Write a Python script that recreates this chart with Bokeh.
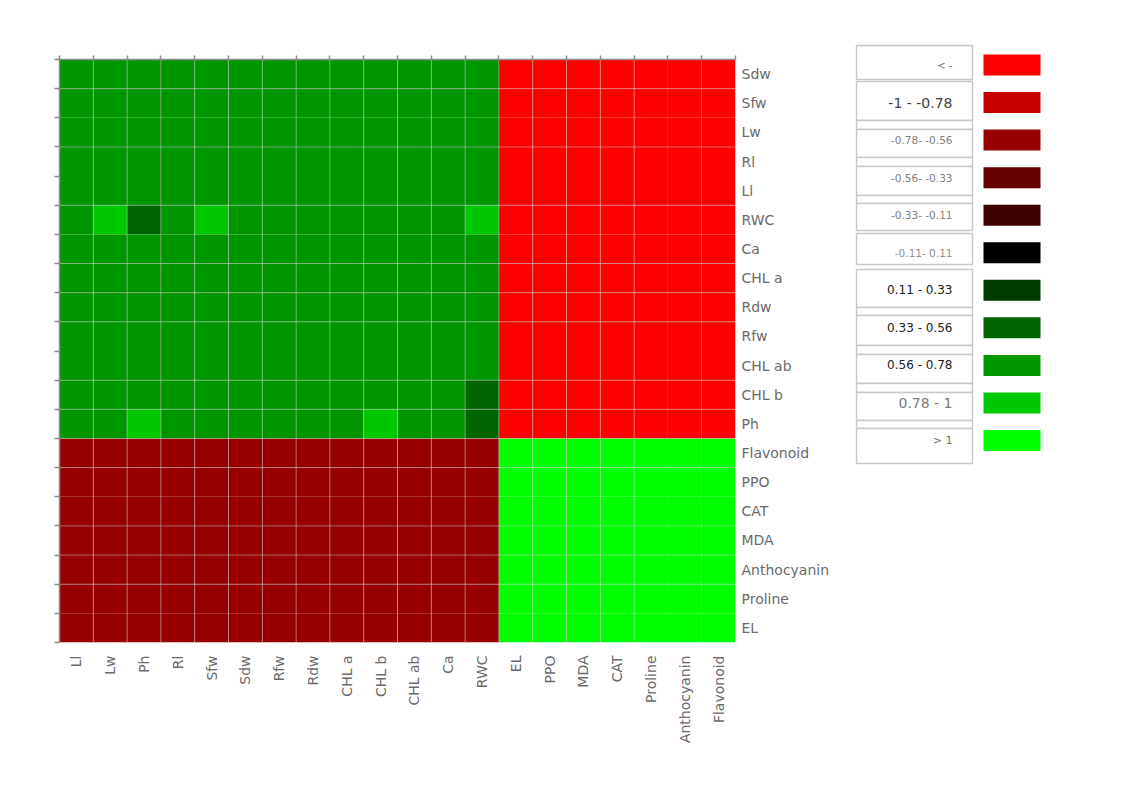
import math
import numpy as np
from bokeh.plotting import figure
from bokeh.models import (Range1d, LinearAxis, FixedTicker, ColumnDataSource,
                          CustomJSTickFormatter)
from bokeh.layouts import row, column
from bokeh.embed import file_html
from bokeh.resources import INLINE
from bokeh.core.properties import value

# ---------------- data ----------------
row_labels = ["Sdw", "Sfw", "Lw", "Rl", "Ll", "RWC", "Ca", "CHL a", "Rdw", "Rfw",
              "CHL ab", "CHL b", "Ph", "Flavonoid", "PPO", "CAT", "MDA",
              "Anthocyanin", "Proline", "EL"]
col_labels = ["Ll", "Lw", "Ph", "Rl", "Sfw", "Sdw", "Rfw", "Rdw", "CHL a", "CHL b",
              "CHL ab", "Ca", "RWC", "EL", "PPO", "MDA", "CAT", "Proline",
              "Anthocyanin", "Flavonoid"]

# estimated correlation values (one row per row label, columns as col_labels)
corr = [
    [0.67, 0.67, 0.67, 0.67, 0.67, 0.67, 0.67, 0.67, 0.67, 0.67, 0.67, 0.67, 0.67, -1.02, -1.02, -1.02, -1.02, -1.02, -1.02, -1.02],
    [0.67, 0.67, 0.67, 0.67, 0.67, 0.67, 0.67, 0.67, 0.67, 0.67, 0.67, 0.67, 0.67, -1.02, -1.02, -1.02, -1.02, -1.02, -1.02, -1.02],
    [0.67, 0.67, 0.67, 0.67, 0.67, 0.67, 0.67, 0.67, 0.67, 0.67, 0.67, 0.67, 0.67, -1.02, -1.02, -1.02, -1.02, -1.02, -1.02, -1.02],
    [0.67, 0.67, 0.67, 0.67, 0.67, 0.67, 0.67, 0.67, 0.67, 0.67, 0.67, 0.67, 0.67, -1.02, -1.02, -1.02, -1.02, -1.02, -1.02, -1.02],
    [0.67, 0.67, 0.67, 0.67, 0.67, 0.67, 0.67, 0.67, 0.67, 0.67, 0.67, 0.67, 0.67, -1.02, -1.02, -1.02, -1.02, -1.02, -1.02, -1.02],
    [0.67, 0.85, 0.45, 0.67, 0.85, 0.67, 0.67, 0.67, 0.67, 0.67, 0.67, 0.67, 0.85, -1.02, -1.02, -1.02, -1.02, -1.02, -1.02, -1.02],
    [0.67, 0.67, 0.67, 0.67, 0.67, 0.67, 0.67, 0.67, 0.67, 0.67, 0.67, 0.67, 0.67, -1.02, -1.02, -1.02, -1.02, -1.02, -1.02, -1.02],
    [0.67, 0.67, 0.67, 0.67, 0.67, 0.67, 0.67, 0.67, 0.67, 0.67, 0.67, 0.67, 0.67, -1.02, -1.02, -1.02, -1.02, -1.02, -1.02, -1.02],
    [0.67, 0.67, 0.67, 0.67, 0.67, 0.67, 0.67, 0.67, 0.67, 0.67, 0.67, 0.67, 0.67, -1.02, -1.02, -1.02, -1.02, -1.02, -1.02, -1.02],
    [0.67, 0.67, 0.67, 0.67, 0.67, 0.67, 0.67, 0.67, 0.67, 0.67, 0.67, 0.67, 0.67, -1.02, -1.02, -1.02, -1.02, -1.02, -1.02, -1.02],
    [0.67, 0.67, 0.67, 0.67, 0.67, 0.67, 0.67, 0.67, 0.67, 0.67, 0.67, 0.67, 0.67, -1.02, -1.02, -1.02, -1.02, -1.02, -1.02, -1.02],
    [0.67, 0.67, 0.67, 0.67, 0.67, 0.67, 0.67, 0.67, 0.67, 0.67, 0.67, 0.67, 0.45, -1.02, -1.02, -1.02, -1.02, -1.02, -1.02, -1.02],
    [0.67, 0.67, 0.85, 0.67, 0.67, 0.67, 0.67, 0.67, 0.67, 0.85, 0.67, 0.67, 0.45, -1.02, -1.02, -1.02, -1.02, -1.02, -1.02, -1.02],
    [-0.67, -0.67, -0.67, -0.67, -0.67, -0.67, -0.67, -0.67, -0.67, -0.67, -0.67, -0.67, -0.67, 1.02, 1.02, 1.02, 1.02, 1.02, 1.02, 1.02],
    [-0.67, -0.67, -0.67, -0.67, -0.67, -0.67, -0.67, -0.67, -0.67, -0.67, -0.67, -0.67, -0.67, 1.02, 1.02, 1.02, 1.02, 1.02, 1.02, 1.02],
    [-0.67, -0.67, -0.67, -0.67, -0.67, -0.67, -0.67, -0.67, -0.67, -0.67, -0.67, -0.67, -0.67, 1.02, 1.02, 1.02, 1.02, 1.02, 1.02, 1.02],
    [-0.67, -0.67, -0.67, -0.67, -0.67, -0.67, -0.67, -0.67, -0.67, -0.67, -0.67, -0.67, -0.67, 1.02, 1.02, 1.02, 1.02, 1.02, 1.02, 1.02],
    [-0.67, -0.67, -0.67, -0.67, -0.67, -0.67, -0.67, -0.67, -0.67, -0.67, -0.67, -0.67, -0.67, 1.02, 1.02, 1.02, 1.02, 1.02, 1.02, 1.02],
    [-0.67, -0.67, -0.67, -0.67, -0.67, -0.67, -0.67, -0.67, -0.67, -0.67, -0.67, -0.67, -0.67, 1.02, 1.02, 1.02, 1.02, 1.02, 1.02, 1.02],
    [-0.67, -0.67, -0.67, -0.67, -0.67, -0.67, -0.67, -0.67, -0.67, -0.67, -0.67, -0.67, -0.67, 1.02, 1.02, 1.02, 1.02, 1.02, 1.02, 1.02],
]

legend_labels = ["< -", "-1 - -0.78", "-0.78- -0.56", "-0.56- -0.33", "-0.33- -0.11",
                 "-0.11- 0.11", "0.11 - 0.33", "0.33 - 0.56", "0.56 - 0.78",
                 "0.78 - 1", "> 1"]
bin_edges = [-1.0, -0.78, -0.56, -0.33, -0.11, 0.11, 0.33, 0.56, 0.78, 1.0]
bin_colors = ["#FF0000", "#C80000", "#960000", "#640000", "#3C0000", "#000000",
              "#003C00", "#006400", "#009600", "#00C800", "#00FF00"]

# ---------------- styles / layout ----------------
FONT = "DejaVu Sans"
LABEL_COLOR = "#6a6a6a"
AXIS_GREY = "#8a8a8a"
# cell boundaries on which the light grid line is visible in the original image
vgrid_idx = list(range(1, 18))
hgrid_idx_from_top = [1, 3, 5, 7, 8, 9, 11, 12, 13, 14, 16, 17, 18]

n_rows, n_cols = len(row_labels), len(col_labels)

# ---------------- heatmap figure ----------------
p = figure(width=850, height=790,
           x_range=Range1d(0, n_cols), y_range=Range1d(0, n_rows),
           x_axis_location=None, y_axis_location=None,
           toolbar_location=None, output_backend="svg",
           min_border_left=59, min_border_top=59,
           min_border_right=115, min_border_bottom=148)
p.grid.visible = False
p.outline_line_color = None
p.background_fill_color = "white"
p.border_fill_color = "white"

vals = np.array(corr, dtype=float)
xs, ys, cs = [], [], []
for i in range(n_rows):
    for j in range(n_cols):
        xs.append(j + 0.5)
        ys.append(n_rows - i - 0.5)
        cs.append(bin_colors[int(np.searchsorted(bin_edges, vals[i, j], side="left"))])
src = ColumnDataSource(dict(x=xs, y=ys, color=cs))
p.rect(x="x", y="y", width=1, height=1, source=src,
       fill_color="color", line_color=None)

# light cell grid lines
p.segment(x0=vgrid_idx, y0=0, x1=vgrid_idx, y1=n_rows,
          line_color="#c8c8c8", line_alpha=0.5, line_width=1)
hy = [n_rows - k for k in hgrid_idx_from_top]
p.segment(x0=0, y0=hy, x1=n_cols, y1=hy,
          line_color="#c8c8c8", line_alpha=0.5, line_width=1)

blank = CustomJSTickFormatter(code="return ''")

# boundary tick axes (left and top), no labels
left_ax = LinearAxis(ticker=FixedTicker(ticks=list(range(n_rows + 1))),
                     formatter=blank,
                     major_label_text_font_size="1px", major_label_standoff=0,
                     major_tick_in=0, major_tick_out=5,
                     axis_line_color=AXIS_GREY, major_tick_line_color=AXIS_GREY,
                     axis_line_width=1.5, major_tick_line_width=1.5)
p.add_layout(left_ax, "left")
top_ax = LinearAxis(ticker=FixedTicker(ticks=list(range(n_cols + 1))),
                    formatter=blank,
                    major_label_text_font_size="1px", major_label_standoff=0,
                    major_tick_in=0, major_tick_out=4,
                    axis_line_color=AXIS_GREY, major_tick_line_color=AXIS_GREY,
                    axis_line_width=1.5, major_tick_line_width=1.5)
p.add_layout(top_ax, "above")

# label axes (right and bottom) at cell centres
row_fmt = CustomJSTickFormatter(args=dict(labels=row_labels, n=n_rows),
                                code="return labels[n - 1 - Math.floor(tick)] || ''")
col_fmt = CustomJSTickFormatter(args=dict(labels=col_labels),
                                code="return labels[Math.floor(tick)] || ''")
right_ax = LinearAxis(ticker=FixedTicker(ticks=[k + 0.5 for k in range(n_rows)]),
                      formatter=row_fmt,
                      major_tick_line_color=None, minor_tick_line_color=None,
                      major_tick_in=0, major_tick_out=0,
                      minor_tick_in=0, minor_tick_out=0,
                      axis_line_color=None, major_label_standoff=6,
                      major_label_text_font=FONT,
                      major_label_text_font_size="14px",
                      major_label_text_color=LABEL_COLOR)
p.add_layout(right_ax, "right")
bottom_ax = LinearAxis(ticker=FixedTicker(ticks=[k + 0.5 for k in range(n_cols)]),
                       formatter=col_fmt,
                       major_tick_line_color=None, minor_tick_line_color=None,
                       major_tick_in=0, major_tick_out=0,
                       minor_tick_in=0, minor_tick_out=0,
                       axis_line_color=None, major_label_standoff=13,
                       major_label_orientation=math.pi / 2,
                       major_label_text_font=FONT,
                       major_label_text_font_size="14px",
                       major_label_text_color=LABEL_COLOR)
p.add_layout(bottom_ax, "below")

# ---------------- legend figure (page pixel coordinates) ----------------
p2 = figure(width=250, height=790,
            x_range=Range1d(850, 1100), y_range=Range1d(790, 0),
            x_axis_location=None, y_axis_location=None,
            toolbar_location=None, output_backend="svg", min_border=0,
            min_border_left=0, min_border_right=0,
            min_border_top=0, min_border_bottom=0)
p2.grid.visible = False
p2.outline_line_color = None
p2.background_fill_color = "white"
p2.border_fill_color = "white"

box_top = [45, 81, 120, 129, 157, 166, 195, 203, 233, 269, 307, 315, 345, 354, 383, 392, 420, 428]
box_bot = [79, 120, 129, 157, 166, 195, 203, 230, 264, 307, 315, 345, 354, 383, 392, 420, 428, 463]
p2.quad(left=856, right=972, top=box_top, bottom=box_bot,
        fill_color="white", line_color="#c8c8c8", line_width=1.5)

n_leg = len(legend_labels)
leg_y = [64.5 + 37.55 * i for i in range(n_leg)]
p2.rect(x=1011.5, y=leg_y, width=57, height=21,
        fill_color=bin_colors, line_color=None)

leg_sizes = ["10px", "14px", "10.5px", "10.5px", "10.5px", "10.5px",
             "12px", "12px", "12px", "14px", "11px"]
leg_colors = ["#707070", "#404040", "#808080", "#808080", "#808080", "#909090",
              "#202020", "#202020", "#202020", "#7a7a7a", "#707070"]
lsrc = ColumnDataSource(dict(y=leg_y, text=legend_labels, size=leg_sizes, color=leg_colors))
p2.text(x=952, y="y", text="text", source=lsrc,
        text_align="right", text_baseline="middle",
        text_font=value(FONT), text_font_size="size", text_color="color")

layout = row(column(p), column(p2))
with open("out.html", "w") as f:
    f.write(file_html(layout, INLINE))
